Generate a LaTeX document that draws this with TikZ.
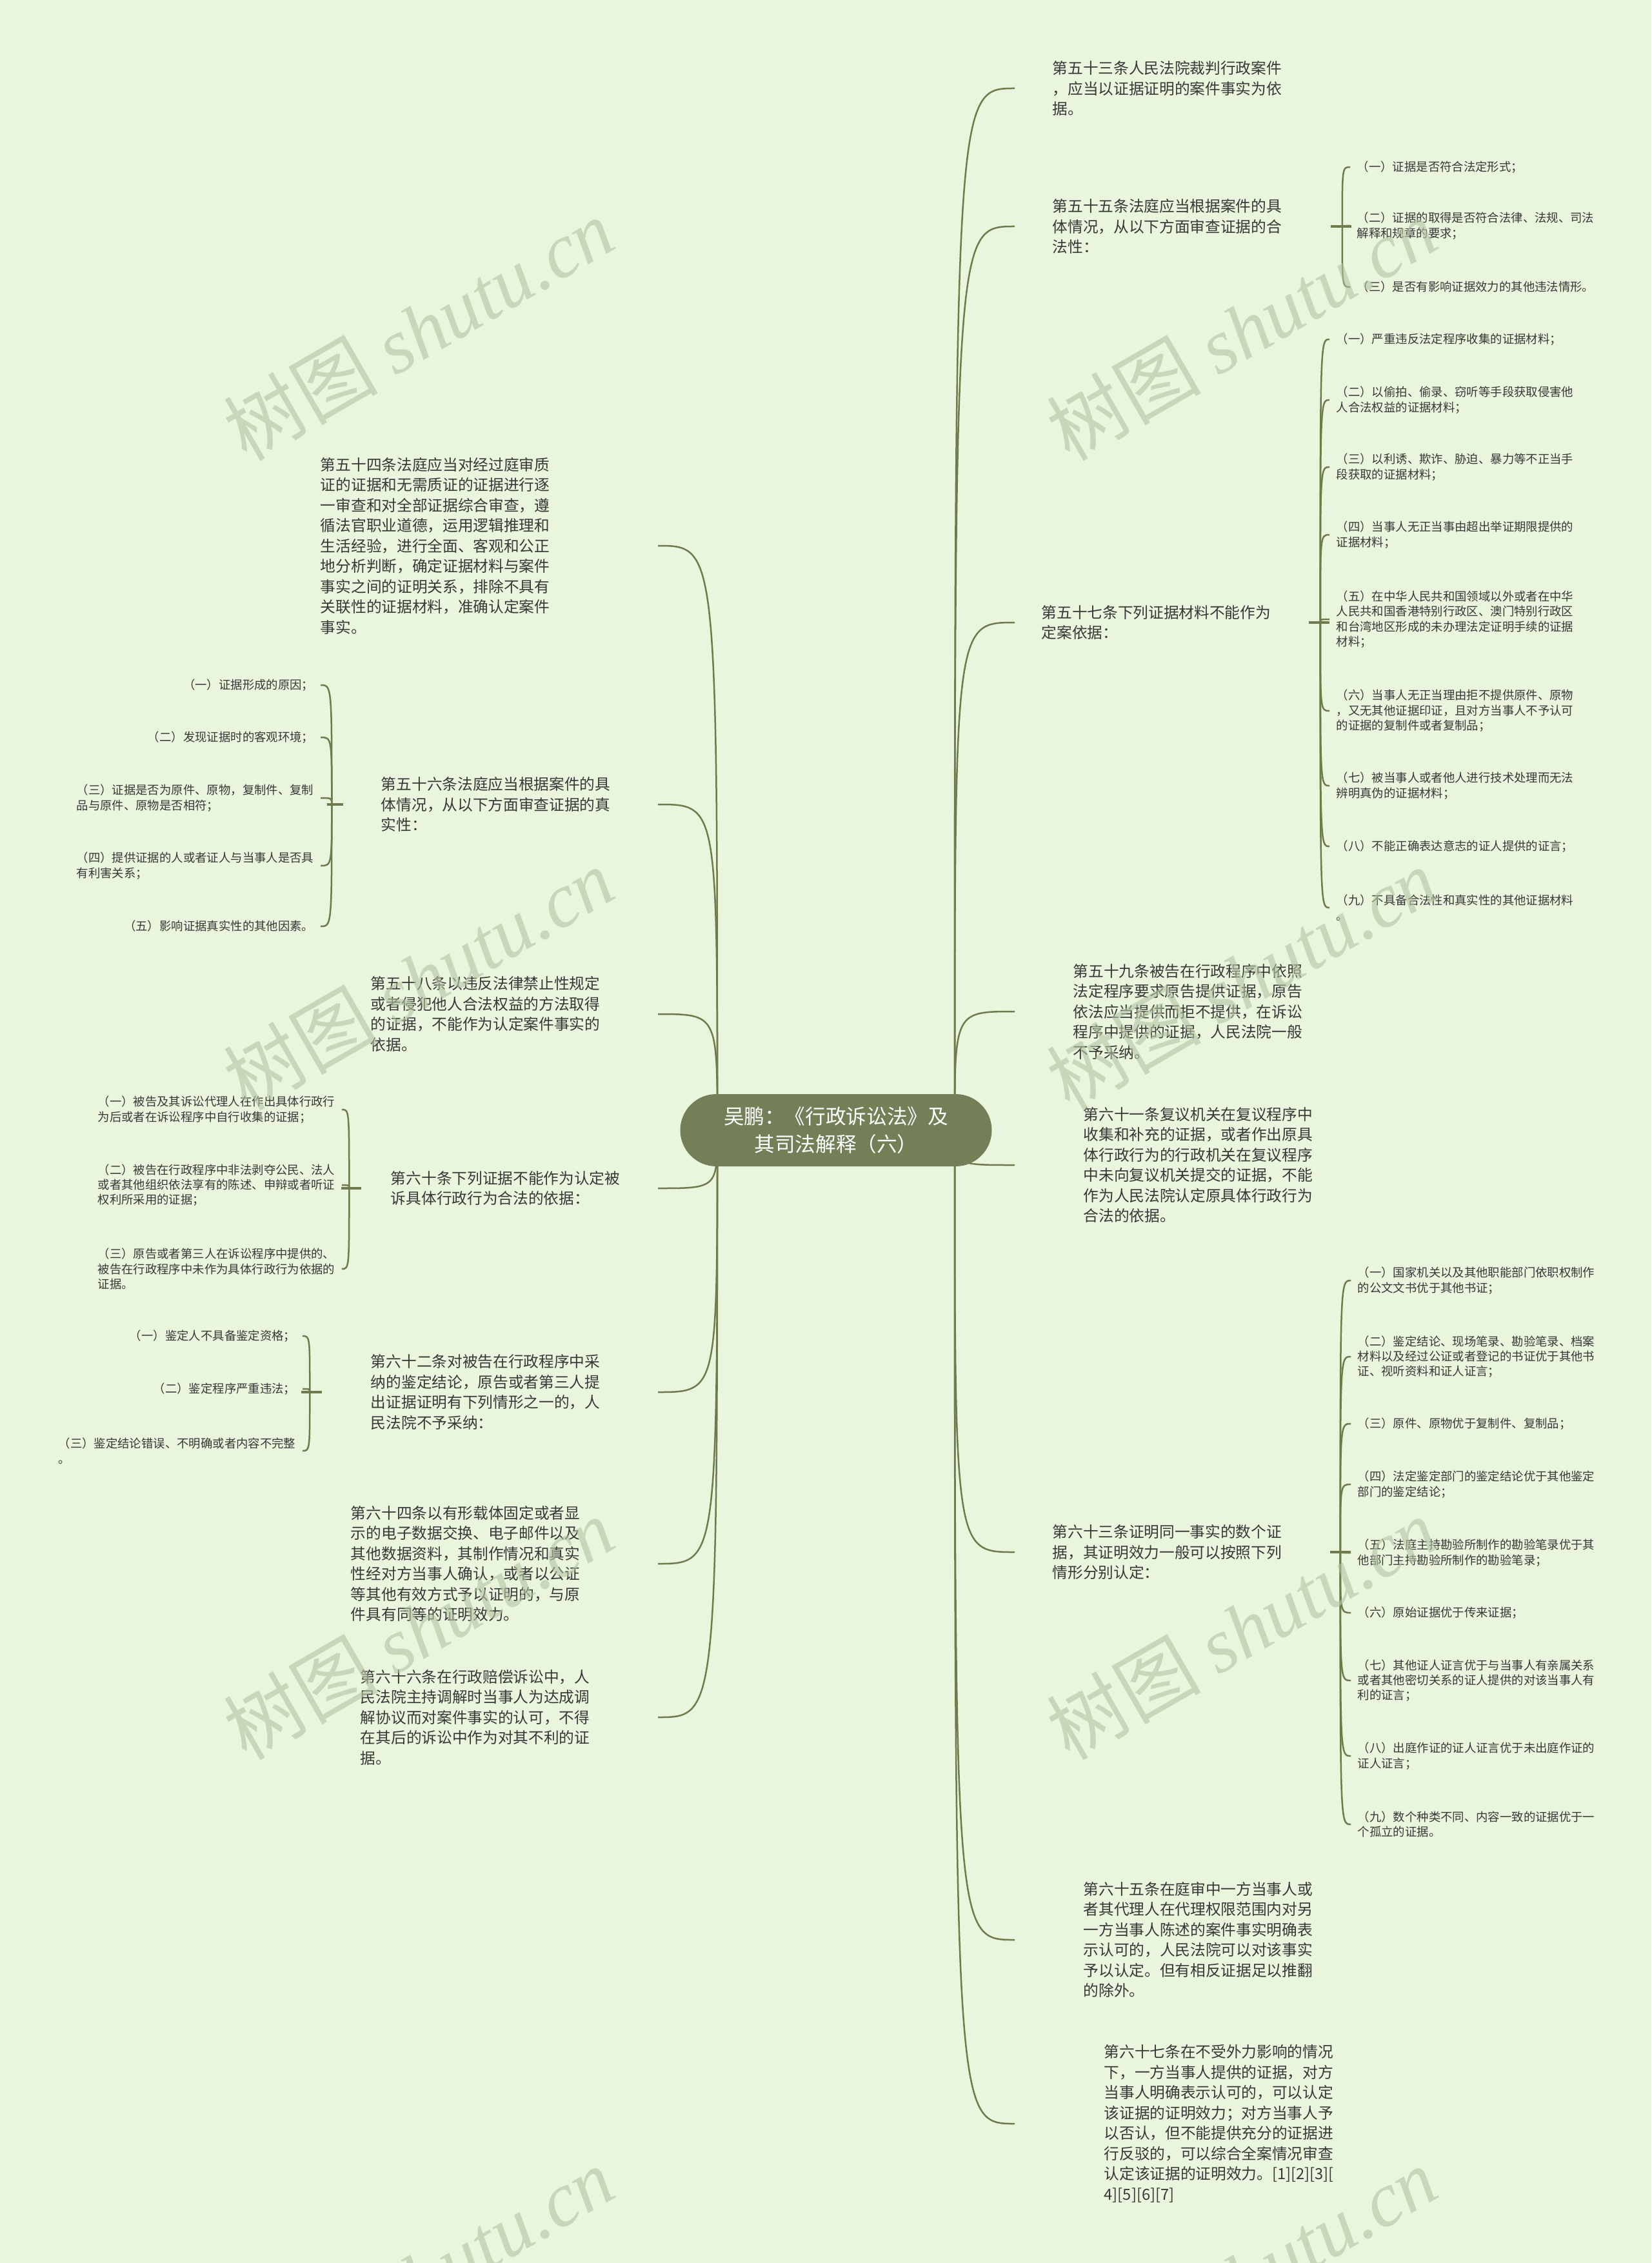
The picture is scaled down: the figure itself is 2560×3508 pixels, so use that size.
\documentclass[tikz,border=0pt]{standalone}
\usepackage{fontspec}
\setmainfont{Noto Sans CJK SC}
\newfontfamily\shuiyinlat{Liberation Serif}
\usetikzlibrary{calc}
\tikzset{px/.style={x=0.1mm,y=-0.1mm}}
\definecolor{dise}{HTML}{E9F5DC}
\definecolor{xian}{HTML}{6E7B4C}
\definecolor{zhong}{HTML}{737F56}
\definecolor{wenzi}{HTML}{383838}
\definecolor{shuiyin}{HTML}{B3C3A2}
\tikzset{
  tiao/.style={font=\fontsize{6.74pt}{8.96pt}\selectfont,text=wenzi,align=left,inner sep=0pt},
  xiang/.style={font=\fontsize{5.23pt}{6.66pt}\selectfont,text=wenzi,align=left,inner xsep=1mm,inner ysep=0pt},
  lian/.style={draw=xian,line width=0.25mm},
  zhi/.style={draw=xian,line width=0.25mm},
  gou/.style={draw=xian,line width=0.4mm},
  shuiyin/.style={font=\fontsize{34pt}{34pt}\selectfont,text=shuiyin,opacity=0.6,rotate=30,inner sep=0pt},
}

\begin{document}
\begin{tikzpicture}[px,
  zhongxin/.style={rounded corners=5.6mm,fill=zhong,text=white,align=center,
    minimum width=48.3mm,minimum height=11.2mm,inner sep=0pt,
    font=\fontsize{9pt}{12.1pt}\selectfont}]
  \useasboundingbox (0,0) rectangle (2560,3508);
  \fill[dise] (0,0) rectangle (2560,3508);
  \coordinate (hubL) at (1112,1752);
  \coordinate (hubR) at (1480,1752);
  \coordinate (ljoin) at (1020,0);
  \coordinate (rjoin) at (1573,0);

  % --- right side, articles
  \node[tiao,anchor=west] (R1) at (1631,137) {第五十三条人民法院裁判行政案件\\，应当以证据证明的案件事实为依\\据。};
  \node[tiao,anchor=west] (R2) at (1631,351) {第五十五条法庭应当根据案件的具\\体情况，从以下方面审查证据的合\\法性：};
  \node[tiao,anchor=west] (R3) at (1614,965) {第五十七条下列证据材料不能作为\\定案依据：};
  \node[tiao,anchor=west] (R4) at (1663,1568) {第五十九条被告在行政程序中依照\\法定程序要求原告提供证据，原告\\依法应当提供而拒不提供，在诉讼\\程序中提供的证据，人民法院一般\\不予采纳。};
  \node[tiao,anchor=west] (R5) at (1679,1806) {第六十一条复议机关在复议程序中\\收集和补充的证据，或者作出原具\\体行政行为的行政机关在复议程序\\中未向复议机关提交的证据，不能\\作为人民法院认定原具体行政行为\\合法的依据。};
  \node[tiao,anchor=west] (R6) at (1631,2406) {第六十三条证明同一事实的数个证\\据，其证明效力一般可以按照下列\\情形分别认定：};
  \node[tiao,anchor=west] (R7) at (1679,3007) {第六十五条在庭审中一方当事人或\\者其代理人在代理权限范围内对另\\一方当事人陈述的案件事实明确表\\示认可的，人民法院可以对该事实\\予以认定。但有相反证据足以推翻\\的除外。};
  \node[tiao,anchor=west] (R8) at (1711,3292) {第六十七条在不受外力影响的情况\\下，一方当事人提供的证据，对方\\当事人明确表示认可的，可以认定\\该证据的证明效力；对方当事人予\\以否认，但不能提供充分的证据进\\行反驳的，可以综合全案情况审查\\认定该证据的证明效力。[1][2][3][\\4][5][6][7]};

  % --- left side, articles
  \node[tiao,anchor=east] (L1) at (853,846) {第五十四条法庭应当对经过庭审质\\证的证据和无需质证的证据进行逐\\一审查和对全部证据综合审查，遵\\循法官职业道德，运用逻辑推理和\\生活经验，进行全面、客观和公正\\地分析判断，确定证据材料与案件\\事实之间的证明关系，排除不具有\\关联性的证据材料，准确认定案件\\事实。};
  \node[tiao,anchor=east] (L2) at (947,1247) {第五十六条法庭应当根据案件的具\\体情况，从以下方面审查证据的真\\实性：};
  \node[tiao,anchor=east] (L3) at (931,1572) {第五十八条以违反法律禁止性规定\\或者侵犯他人合法权益的方法取得\\的证据，不能作为认定案件事实的\\依据。};
  \node[tiao,anchor=east] (L4) at (962,1842) {第六十条下列证据不能作为认定被\\诉具体行政行为合法的依据：};
  \node[tiao,anchor=east] (L5) at (931,2158) {第六十二条对被告在行政程序中采\\纳的鉴定结论，原告或者第三人提\\出证据证明有下列情形之一的，人\\民法院不予采纳：};
  \node[tiao,anchor=east] (L6) at (900,2424) {第六十四条以有形载体固定或者显\\示的电子数据交换、电子邮件以及\\其他数据资料，其制作情况和真实\\性经对方当事人确认，或者以公证\\等其他有效方式予以证明的，与原\\件具有同等的证明效力。};
  \node[tiao,anchor=east] (L7) at (915,2662) {第六十六条在行政赔偿诉讼中，人\\民法院主持调解时当事人为达成调\\解协议而对案件事实的认可，不得\\在其后的诉讼中作为对其不利的证\\据。};

  % --- from the centre
  \foreach \n in {R1,R2,R3,R4,R5,R6,R7,R8}
    \draw[lian] (hubR) .. controls (hubR |- \n.west) .. (\n.west -| rjoin);
  \foreach \n in {L1,L2,L3,L4,L5,L6,L7}
    \draw[lian] (hubL) .. controls (hubL |- \n.east) .. (\n.east -| ljoin);
  \node[zhongxin] (zx) at (1296,1752) {吴鹏：《行政诉讼法》及\\其司法解释（六）};

  % --- 第五十五条
  \coordinate (R2z) at ($(R2.east)+(93,0)$);
  \node[xiang,anchor=west] (R2a) at (2093,259) {（一）证据是否符合法定形式；};
  \node[xiang,anchor=west] (R2b) at (2093,350) {（二）证据的取得是否符合法律、法规、司法\\解释和规章的要求；};
  \node[xiang,anchor=west] (R2c) at (2093,445) {（三）是否有影响证据效力的其他违法情形。};
  \draw[gou] ($(R2z)+(-18,0)$) -- ($(R2z)+(14,0)$);
  \foreach \n in {R2a,R2b,R2c}
    \draw[zhi] (R2z) .. controls (R2z |- \n.west) .. (\n.west);

  % --- 第五十七条
  \coordinate (R3z) at ($(R3.east)+(76,0)$);
  \node[xiang,anchor=west] (R3a) at (2061,526) {（一）严重违反法定程序收集的证据材料；};
  \node[xiang,anchor=west] (R3b) at (2061,620) {（二）以偷拍、偷录、窃听等手段获取侵害他\\人合法权益的证据材料；};
  \node[xiang,anchor=west] (R3c) at (2061,724) {（三）以利诱、欺诈、胁迫、暴力等不正当手\\段获取的证据材料；};
  \node[xiang,anchor=west] (R3d) at (2061,829) {（四）当事人无正当事由超出举证期限提供的\\证据材料；};
  \node[xiang,anchor=west] (R3e) at (2061,960) {（五）在中华人民共和国领域以外或者在中华\\人民共和国香港特别行政区、澳门特别行政区\\和台湾地区形成的未办理法定证明手续的证据\\材料；};
  \node[xiang,anchor=west] (R3f) at (2061,1102) {（六）当事人无正当理由拒不提供原件、原物\\，又无其他证据印证，且对方当事人不予认可\\的证据的复制件或者复制品；};
  \node[xiang,anchor=west] (R3g) at (2061,1218) {（七）被当事人或者他人进行技术处理而无法\\辨明真伪的证据材料；};
  \node[xiang,anchor=west] (R3h) at (2061,1312) {（八）不能正确表达意志的证人提供的证言；};
  \node[xiang,anchor=west] (R3i) at (2061,1407) {（九）不具备合法性和真实性的其他证据材料\\。};
  \draw[gou] ($(R3z)+(-18,0)$) -- ($(R3z)+(14,0)$);
  \foreach \n in {R3a,R3b,R3c,R3d,R3e,R3f,R3g,R3h,R3i}
    \draw[zhi] (R3z) .. controls (R3z |- \n.west) .. (\n.west);

  % --- 第六十三条
  \coordinate (R6z) at ($(R6.east)+(90,0)$);
  \node[xiang,anchor=west] (R6a) at (2094,1985) {（一）国家机关以及其他职能部门依职权制作\\的公文文书优于其他书证；};
  \node[xiang,anchor=west] (R6b) at (2094,2103) {（二）鉴定结论、现场笔录、勘验笔录、档案\\材料以及经过公证或者登记的书证优于其他书\\证、视听资料和证人证言；};
  \node[xiang,anchor=west] (R6c) at (2094,2207) {（三）原件、原物优于复制件、复制品；};
  \node[xiang,anchor=west] (R6d) at (2094,2301) {（四）法定鉴定部门的鉴定结论优于其他鉴定\\部门的鉴定结论；};
  \node[xiang,anchor=west] (R6e) at (2094,2407) {（五）法庭主持勘验所制作的勘验笔录优于其\\他部门主持勘验所制作的勘验笔录；};
  \node[xiang,anchor=west] (R6f) at (2094,2500) {（六）原始证据优于传来证据；};
  \node[xiang,anchor=west] (R6g) at (2094,2605) {（七）其他证人证言优于与当事人有亲属关系\\或者其他密切关系的证人提供的对该当事人有\\利的证言；};
  \node[xiang,anchor=west] (R6h) at (2094,2722) {（八）出庭作证的证人证言优于未出庭作证的\\证人证言；};
  \node[xiang,anchor=west] (R6i) at (2094,2828) {（九）数个种类不同、内容一致的证据优于一\\个孤立的证据。};
  \draw[gou] ($(R6z)+(-16,0)$) -- ($(R6z)+(16,0)$);
  \foreach \n in {R6a,R6b,R6c,R6d,R6e,R6f,R6g,R6h,R6i}
    \draw[zhi] (R6z) .. controls (R6z |- \n.west) .. (\n.west);

  % --- 第五十六条
  \coordinate (L2z) at ($(L2.west)+(-76,0)$);
  \node[xiang,anchor=east] (L2a) at (497,1062) {（一）证据形成的原因；};
  \node[xiang,anchor=east] (L2b) at (497,1143) {（二）发现证据时的客观环境；};
  \node[xiang,anchor=east] (L2c) at (497,1237) {（三）证据是否为原件、原物，复制件、复制\\品与原件、原物是否相符；};
  \node[xiang,anchor=east] (L2d) at (497,1342) {（四）提供证据的人或者证人与当事人是否具\\有利害关系；};
  \node[xiang,anchor=east] (L2e) at (497,1436) {（五）影响证据真实性的其他因素。};
  \draw[gou] ($(L2z)+(18,0)$) -- ($(L2z)+(-7,0)$);
  \foreach \n in {L2a,L2b,L2c,L2d,L2e}
    \draw[zhi] (L2z) .. controls (L2z |- \n.east) .. (\n.east);

  % --- 第六十条
  \coordinate (L4z) at ($(L4.west)+(-64,0)$);
  \node[xiang,anchor=east] (L4a) at (530,1720) {（一）被告及其诉讼代理人在作出具体行政行\\为后或者在诉讼程序中自行收集的证据；};
  \node[xiang,anchor=east] (L4b) at (530,1837) {（二）被告在行政程序中非法剥夺公民、法人\\或者其他组织依法享有的陈述、申辩或者听证\\权利所采用的证据；};
  \node[xiang,anchor=east] (L4c) at (530,1967) {（三）原告或者第三人在诉讼程序中提供的、\\被告在行政程序中未作为具体行政行为依据的\\证据。};
  \draw[gou] ($(L4z)+(19,0)$) -- ($(L4z)+(-12,0)$);
  \foreach \n in {L4a,L4b,L4c}
    \draw[zhi] (L4z) .. controls (L4z |- \n.east) .. (\n.east);

  % --- 第六十二条
  \coordinate (L5z) at ($(L5.west)+(-94,0)$);
  \node[xiang,anchor=east] (L5a) at (469,2071) {（一）鉴定人不具备鉴定资格；};
  \node[xiang,anchor=east] (L5b) at (469,2153) {（二）鉴定程序严重违法；};
  \node[xiang,anchor=east] (L5c) at (469,2249) {（三）鉴定结论错误、不明确或者内容不完整\\。};
  \draw[gou] ($(L5z)+(19,0)$) -- ($(L5z)+(-13,0)$);
  \foreach \n in {L5a,L5b,L5c}
    \draw[zhi] (L5z) .. controls (L5z |- \n.east) .. (\n.east);

  % --- watermark
  \foreach \x/\y [count=\i] in {649/510,1925/510,649/1517,1925/1517,649/2524,1925/2524,649/3531,1925/3531}
    \node[shuiyin] (sy\i) at (\x,\y) {树图 {\shuiyinlat\itshape shutu.cn}};
\end{tikzpicture}
\end{document}
